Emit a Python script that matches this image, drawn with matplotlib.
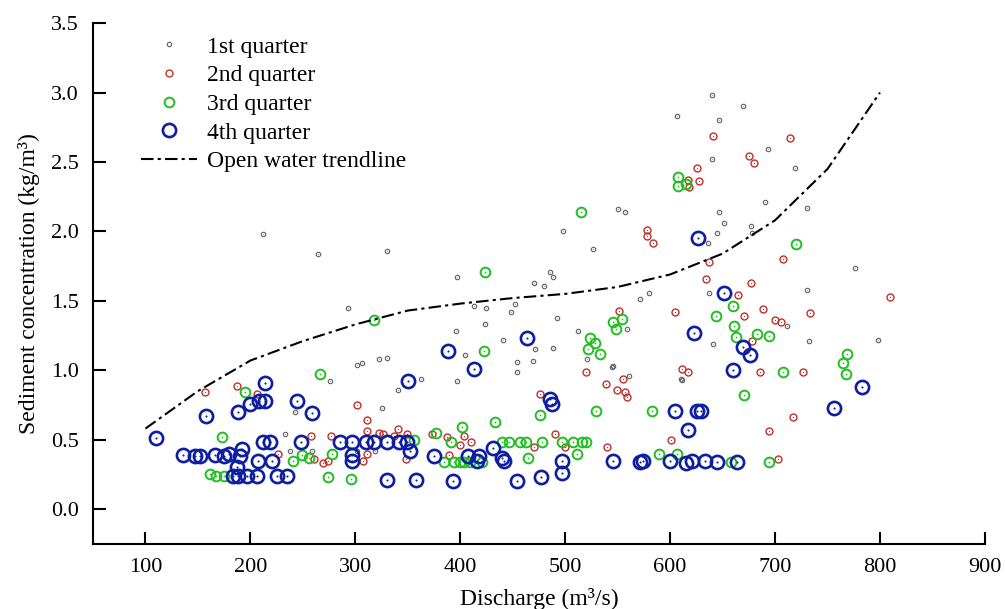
import matplotlib.pyplot as plt
import numpy as np

plt.rcParams['font.family'] = ['Liberation Serif', 'DejaVu Serif']

# open water trendline
trend_x = [100, 150, 200, 250, 300, 350, 400, 450, 500, 550, 600, 650, 700, 750, 800]
trend_y = [0.58, 0.85, 1.07, 1.21, 1.33, 1.43, 1.48, 1.52, 1.55, 1.60, 1.69, 1.84, 2.08, 2.45, 3.0]

# 1st quarter
q1 = [(212, 1.98), (264, 1.84), (330, 1.86), (293, 1.45), (323, 1.08), (330, 1.09),
      (302, 1.04), (306, 1.05), (276, 0.92), (243, 0.70), (233, 0.54), (238, 0.42),
      (259, 0.42), (302, 0.42), (319, 0.42), (325, 0.73), (363, 0.94), (341, 0.86),
      (397, 0.92), (454, 1.06), (454, 0.99), (469, 1.07), (405, 1.11), (471, 1.15),
      (488, 1.16), (397, 1.67), (413, 1.46), (425, 1.45), (452, 1.48), (448, 1.42),
      (424, 1.33), (396, 1.28), (441, 1.22), (470, 1.63), (480, 1.61), (486, 1.71),
      (488, 1.67), (498, 2.00), (527, 1.87), (550, 2.16), (557, 2.14), (492, 1.38),
      (512, 1.28), (559, 1.30), (571, 1.51), (580, 1.56), (640, 2.98), (669, 2.90),
      (607, 2.83), (647, 2.80), (693, 2.59), (640, 2.52), (719, 2.46), (690, 2.21),
      (647, 2.14), (651, 2.06), (645, 1.99), (677, 2.04), (678, 1.99), (730, 2.17),
      (636, 1.92), (637, 1.56), (730, 1.58), (641, 1.19), (711, 1.32), (732, 1.21),
      (546, 1.03), (561, 0.96), (610, 0.94), (521, 1.08), (545, 1.02), (611, 0.93),
      (776, 1.74), (798, 1.22)]

# 2nd quarter
q2 = [(157, 0.84), (187, 0.89), (206, 0.83), (302, 0.75), (311, 0.64), (311, 0.56),
      (323, 0.55), (326, 0.54), (226, 0.40), (258, 0.53), (277, 0.53), (269, 0.33),
      (274, 0.35), (311, 0.40), (307, 0.35), (261, 0.36), (341, 0.58), (349, 0.54),
      (337, 0.53), (373, 0.54), (387, 0.52), (404, 0.53), (400, 0.46), (410, 0.48),
      (348, 0.36), (389, 0.39), (476, 0.83), (490, 0.54), (470, 0.45), (500, 0.45),
      (520, 0.99), (539, 0.90), (549, 0.86), (555, 0.94), (557, 0.84), (559, 0.81),
      (601, 0.50), (578, 2.01), (578, 1.97), (584, 1.92), (551, 1.43), (605, 1.42),
      (641, 2.69), (714, 2.67), (675, 2.54), (680, 2.49), (626, 2.46), (628, 2.36),
      (617, 2.37), (618, 2.32), (708, 1.80), (637, 1.78), (634, 1.66), (677, 1.63),
      (665, 1.54), (689, 1.44), (670, 1.39), (700, 1.36), (706, 1.35), (733, 1.41),
      (678, 1.21), (611, 1.01), (617, 0.99), (686, 0.99), (727, 0.99), (717, 0.66),
      (694, 0.56), (540, 0.45), (703, 0.36), (810, 1.53)]

# 3rd quarter
q3 = [(318, 1.36), (266, 0.97), (195, 0.84), (173, 0.52), (162, 0.25), (167, 0.24),
      (175, 0.24), (241, 0.35), (249, 0.39), (256, 0.37), (278, 0.40), (274, 0.23),
      (296, 0.22), (356, 0.50), (377, 0.55), (391, 0.48), (402, 0.59), (385, 0.34),
      (394, 0.34), (400, 0.34), (404, 0.34), (409, 0.34), (421, 0.34), (433, 0.63),
      (440, 0.48), (446, 0.48), (457, 0.48), (463, 0.48), (478, 0.48), (465, 0.37),
      (476, 0.68), (497, 0.48), (507, 0.48), (516, 0.48), (520, 0.48), (511, 0.40),
      (423, 1.14), (529, 0.71), (583, 0.71), (589, 0.40), (607, 0.40), (424, 1.71),
      (515, 2.14), (546, 1.35), (554, 1.37), (548, 1.30), (524, 1.23), (528, 1.20),
      (522, 1.15), (533, 1.12), (608, 2.39), (608, 2.33), (615, 2.34), (720, 1.91),
      (660, 1.46), (644, 1.39), (661, 1.32), (663, 1.24), (683, 1.26), (694, 1.25),
      (708, 0.99), (670, 0.82), (769, 1.12), (765, 1.05), (768, 0.97), (658, 0.34),
      (694, 0.34)]

# 4th quarter
q4 = [(110, 0.51), (136, 0.39), (147, 0.38), (152, 0.38), (166, 0.39), (175, 0.38),
      (180, 0.40), (190, 0.38), (192, 0.43), (187, 0.30), (183, 0.24), (188, 0.24),
      (197, 0.24), (206, 0.24), (225, 0.24), (235, 0.24), (158, 0.67), (188, 0.70),
      (200, 0.76), (208, 0.78), (214, 0.78), (214, 0.91), (212, 0.48), (219, 0.48),
      (207, 0.35), (221, 0.35), (248, 0.48), (244, 0.78), (259, 0.69), (285, 0.48),
      (297, 0.48), (310, 0.48), (318, 0.48), (330, 0.48), (342, 0.48), (349, 0.48),
      (297, 0.39), (297, 0.35), (330, 0.21), (352, 0.42), (358, 0.21), (350, 0.92),
      (375, 0.38), (393, 0.20), (407, 0.38), (418, 0.38), (416, 0.35), (413, 1.01),
      (431, 0.44), (440, 0.37), (442, 0.35), (454, 0.20), (477, 0.23), (497, 0.35),
      (497, 0.26), (487, 0.76), (486, 0.79), (388, 1.14), (464, 1.23), (546, 0.35),
      (571, 0.34), (574, 0.35), (600, 0.35), (605, 0.71), (623, 1.27), (669, 1.17),
      (676, 1.11), (660, 1.00), (626, 0.71), (629, 0.71), (617, 0.57), (615, 0.33),
      (621, 0.35), (633, 0.35), (645, 0.34), (664, 0.34), (651, 1.56), (756, 0.73),
      (783, 0.88), (627, 1.95)]

series = [
    (q1, '1st quarter', '#606060', 3.2, 0.8, 0.6),
    (q2, '2nd quarter', '#c0302a', 5.0, 1.0, 0.9),
    (q3, '3rd quarter', '#1fbf1f', 7.0, 1.4, 1.2),
    (q4, '4th quarter', '#0d1ea0', 9.5, 1.9, 1.5),
]

fig, ax = plt.subplots(figsize=(10.05, 6.09), dpi=100)
fig.subplots_adjust(left=0.0925, right=0.98, bottom=0.107, top=0.962)

for pts, label, color, ms, mew, dot in series:
    xs = [p[0] for p in pts]
    ys = [p[1] for p in pts]
    ax.plot(xs, ys, 'o', ms=ms, mfc='none', mec=color, mew=mew, label=label)
    ax.plot(xs, ys, 'o', ms=dot, mfc=color, mec='none')

ax.plot(trend_x, trend_y, color='black', lw=1.5, dashes=(6, 2, 1.5, 2),
        label='Open water trendline')

ax.set_xlim(50, 900)
ax.set_ylim(-0.25, 3.5)
ax.set_xticks(np.arange(100, 901, 100))
ax.set_yticks(np.arange(0, 3.51, 0.5))
ax.yaxis.set_major_formatter(plt.FormatStrFormatter('%.1f'))
ax.spines['top'].set_visible(False)
ax.spines['right'].set_visible(False)
for s in ['left', 'bottom']:
    ax.spines[s].set_linewidth(1.5)
ax.tick_params(direction='in', length=9, width=1.5, labelsize=16)
ax.tick_params(axis='x', pad=10)
ax.tick_params(axis='y', pad=10)

ax.set_xlabel('Discharge (m³/s)', fontsize=17, labelpad=8)
ax.set_ylabel('Sediment concentration (kg/m³)', fontsize=17, labelpad=8)

ax.legend(loc='upper left', frameon=False, fontsize=17, handlelength=2.4,
          handletextpad=0.4, labelspacing=0.3, borderaxespad=0.0,
          bbox_to_anchor=(0.043, 0.993))

plt.savefig('out.png', dpi=100)
